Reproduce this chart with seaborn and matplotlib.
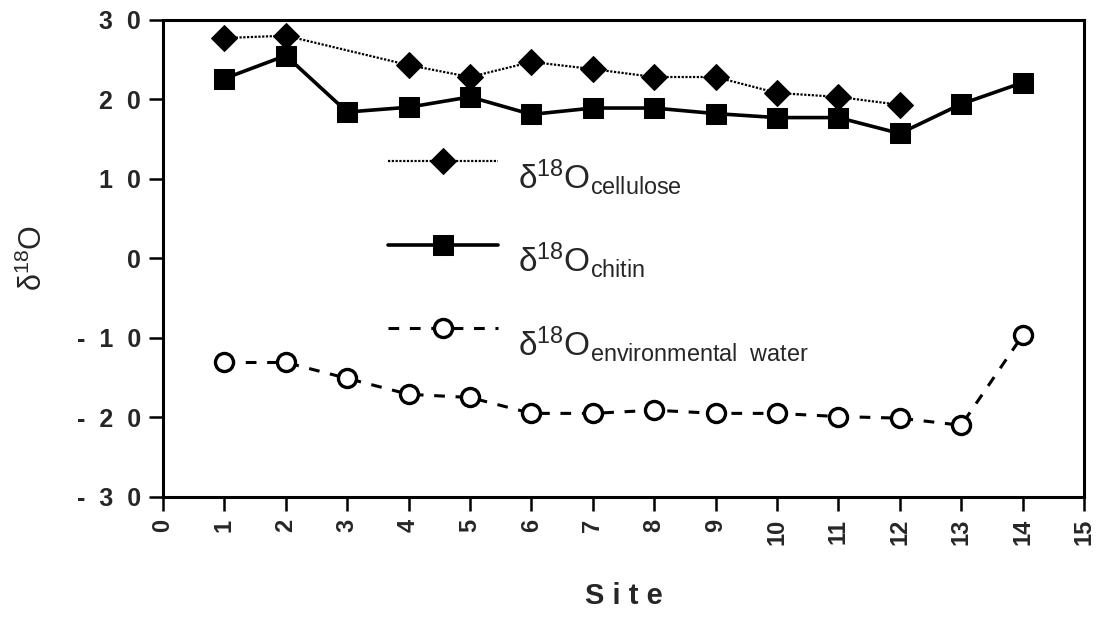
import numpy as np
import pandas as pd
import matplotlib
matplotlib.use("Agg")
import matplotlib.pyplot as plt
from matplotlib.legend_handler import HandlerLine2D
import seaborn as sns

# ---- data ----
sites_cellulose = [1, 2, 4, 5, 6, 7, 8, 9, 10, 11, 12]
d18o_cellulose = [27.7, 28.0, 24.3, 22.8, 24.7, 23.8, 22.8, 22.8, 20.8, 20.3, 19.3]

sites_chitin = [1, 2, 3, 4, 5, 6, 7, 8, 9, 10, 11, 12, 13, 14]
d18o_chitin = [22.6, 25.5, 18.4, 19.0, 20.3, 18.1, 18.9, 18.9, 18.2, 17.7, 17.7, 15.7, 19.4, 22.1]

sites_water = [1, 2, 3, 4, 5, 6, 7, 8, 9, 10, 11, 12, 13, 14]
d18o_water = [-13.1, -13.1, -15.1, -17.1, -17.5, -19.5, -19.5, -19.1, -19.5, -19.5, -19.9, -20.1, -21.0, -9.7]

x_ticks = list(range(0, 16))
y_ticks = [-30, -20, -10, 0, 10, 20, 30]
y_tick_labels = ["-  3  0", "-  2  0", "-  1  0", "0", "1  0", "2  0", "3  0"]

df_cel = pd.DataFrame({"Site": sites_cellulose, "d18O": d18o_cellulose})
df_chi = pd.DataFrame({"Site": sites_chitin, "d18O": d18o_chitin})
df_wat = pd.DataFrame({"Site": sites_water, "d18O": d18o_water})


# legend samples sit a bit above the label text, like in the original
class RaisedLine(HandlerLine2D):
    def create_artists(self, legend, orig_handle, xdescent, ydescent,
                       width, height, fontsize, trans):
        arts = super().create_artists(legend, orig_handle, xdescent, ydescent,
                                      width, height, fontsize, trans)
        for a in arts:
            a.set_ydata(np.asarray(a.get_ydata()) + 0.47 * fontsize)
        return arts


sns.set_style("ticks")
plt.rcParams["font.family"] = ["Liberation Sans", "DejaVu Sans"]
plt.rcParams["mathtext.fontset"] = "custom"
plt.rcParams["mathtext.rm"] = "Liberation Sans"
plt.rcParams["mathtext.it"] = "Liberation Sans"

fig = plt.figure(figsize=(11.05, 6.18), dpi=100)
ax = fig.add_axes([0.1475, 0.196, 0.8335, 0.772])

sns.lineplot(data=df_cel, x="Site", y="d18O", ax=ax, color="black",
             linestyle=(0, (1, 0.7)), linewidth=1.6, marker="D", markersize=13,
             markeredgecolor="black", markerfacecolor="black",
             label=r"$\mathregular{\delta^{18}O_{cellulose}}$")
sns.lineplot(data=df_chi, x="Site", y="d18O", ax=ax, color="black",
             linestyle="-", linewidth=2.6, marker="s", markersize=14,
             markeredgecolor="black", markerfacecolor="black",
             label=r"$\mathregular{\delta^{18}O_{chitin}}$")
sns.lineplot(data=df_wat, x="Site", y="d18O", ax=ax, color="black",
             linestyle=(0, (3.5, 3.5)), linewidth=2.2, marker="o", markersize=13,
             markeredgewidth=2.4, markeredgecolor="black", markerfacecolor="white",
             label=r"$\mathregular{\delta^{18}O_{environmental\ \ water}}$")

ax.set_xlim(0, 15)
ax.set_ylim(-30, 30)
ax.set_xticks(x_ticks)
ax.set_xticklabels([str(t) for t in x_ticks], rotation=90, fontsize=17, fontweight="bold")
ax.set_yticks(y_ticks)
ax.set_yticklabels(y_tick_labels, fontsize=18, fontweight="bold")
ax.tick_params(direction="out", length=10, width=1.8, color="black", pad=6)

for sp in ax.spines.values():
    sp.set_linewidth(2.2)
    sp.set_color("black")
    sp.set_visible(True)

ax.set_xlabel("S i t e", fontsize=21, fontweight="bold", labelpad=26)
ax.set_ylabel(r"$\mathregular{\delta^{18}O}$", fontsize=22, labelpad=20)

handles, labels = ax.get_legend_handles_labels()
leg = ax.legend(handles, labels, loc="upper left", bbox_to_anchor=(0.23, 0.74),
                frameon=False, fontsize=24, handlelength=3.3, handletextpad=0.6,
                labelspacing=1.3, numpoints=1, borderaxespad=0,
                handler_map={h: RaisedLine() for h in handles})

fig.savefig("out.png", dpi=100)
